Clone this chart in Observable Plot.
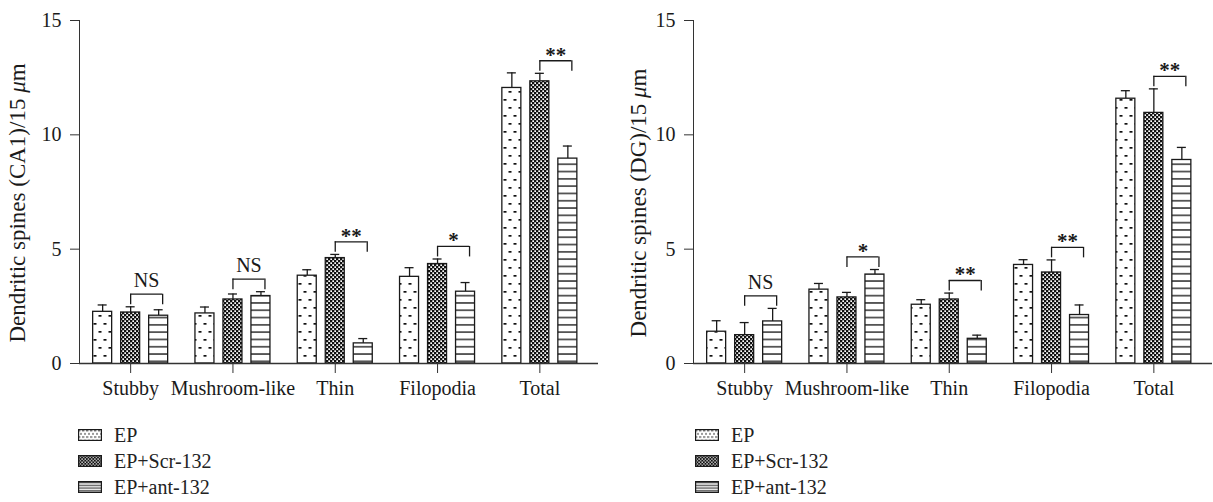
<!DOCTYPE html>
<html><head><meta charset="utf-8">
<script src="https://cdn.jsdelivr.net/npm/d3@7"></script>
<script src="https://cdn.jsdelivr.net/npm/@observablehq/plot@0.6"></script>
<style>
body{margin:0;background:#fff;font-family:"Liberation Serif",serif;color:#222}
#row{display:flex}
.legend{margin-top:22px}
.legend .item{display:flex;align-items:center;height:26px;font-size:20px}
.legend .item svg{margin-right:12px}
</style></head><body>
<svg width="0" height="0" style="position:absolute"><defs>
 <pattern id="pEP" patternUnits="userSpaceOnUse" width="10" height="16"><rect width="10" height="16" fill="#fff"/><rect x="1.5" y="3" width="3" height="1.7" fill="#111"/><rect x="6.5" y="11" width="3" height="1.7" fill="#111"/></pattern>
 <pattern id="pScr" patternUnits="userSpaceOnUse" width="4" height="4"><rect width="4" height="4" fill="#111"/><rect x="0.3" y="0.3" width="1.7" height="1.7" fill="#fff"/><rect x="2.3" y="2.3" width="1.7" height="1.7" fill="#fff"/></pattern>
 <pattern id="pAnt" patternUnits="userSpaceOnUse" width="10" height="7.3"><rect width="10" height="7.3" fill="#fff"/><rect y="3" width="10" height="1.3" fill="#111"/></pattern>
 <pattern id="lEP" patternUnits="userSpaceOnUse" width="10" height="16" patternTransform="scale(0.4)"><rect width="10" height="16" fill="#fff"/><rect x="0" y="3" width="6" height="2.5" fill="#333"/><rect x="5" y="11" width="6" height="2.5" fill="#333"/></pattern>
 <pattern id="lScr" patternUnits="userSpaceOnUse" width="4" height="4" patternTransform="scale(0.8)"><rect width="4" height="4" fill="#111"/><rect x="0.3" y="0.3" width="1.6" height="1.6" fill="#fff"/><rect x="2.3" y="2.3" width="1.6" height="1.6" fill="#fff"/></pattern>
 <pattern id="lAnt" patternUnits="userSpaceOnUse" width="10" height="7.3" patternTransform="scale(0.38)"><rect width="10" height="7.3" fill="#fff"/><rect y="3" width="10" height="2.6" fill="#111"/></pattern>
</defs></svg>
<div id="row"></div>
<script>
// ---- data ----
const categories = ["Stubby", "Mushroom-like", "Thin", "Filopodia", "Total"];
const groups = ["EP", "EP+Scr-132", "EP+ant-132"];
const yTicks = [0, 5, 10, 15];

const ca1EP     = [2.26, 2.19, 3.84, 3.79, 12.05];
const ca1EPErr  = [0.30, 0.28, 0.26, 0.40, 0.66];
const ca1Scr    = [2.23, 2.80, 4.61, 4.35, 12.34];
const ca1ScrErr = [0.25, 0.24, 0.16, 0.22, 0.35];
const ca1Ant    = [2.09, 2.95, 0.88, 3.14, 8.96];
const ca1AntErr = [0.26, 0.19, 0.21, 0.40, 0.55];
const ca1Sig    = ["NS", "NS", "**", "*", "**"];

const dgEP      = [1.39, 3.23, 2.57, 4.31, 11.58];
const dgEPErr   = [0.48, 0.27, 0.22, 0.23, 0.35];
const dgScr     = [1.24, 2.89, 2.80, 3.98, 10.96];
const dgScrErr  = [0.55, 0.22, 0.28, 0.55, 1.05];
const dgAnt     = [1.84, 3.89, 1.08, 2.12, 8.90];
const dgAntErr  = [0.57, 0.22, 0.16, 0.44, 0.55];
const dgSig     = ["NS", "*", "**", "**", "**"];

const ca1Label = "Dendritic spines (CA1)/15 ";
const dgLabel = "Dendritic spines (DG)/15 ";

// ---- styling ----
const fills = {"EP": "url(#pEP)", "EP+Scr-132": "url(#pScr)", "EP+ant-132": "url(#pAnt)"};
const legendFills = {"EP": "url(#lEP)", "EP+Scr-132": "url(#lScr)", "EP+ant-132": "url(#lAnt)"};
const groupDx = {"EP": -28, "EP+Scr-132": 0, "EP+ant-132": 28};
const ink = "#1a1a1a";

function chart({width, marginLeft, marginRight, ep, epE, scr, scrE, ant, antE, sig, label, labelX, legendLeft}) {
  const height = 400, marginTop = 20, marginBottom = 37;
  const frameW = width - marginLeft - marginRight;
  const step = 102.3;
  const po = (frameW / step - categories.length) / 2;
  const barW = 19, capW = 9;
  const rows = [];
  categories.forEach((c, i) => {
    rows.push({cat: c, group: groups[0], mean: ep[i], err: epE[i]});
    rows.push({cat: c, group: groups[1], mean: scr[i], err: scrE[i]});
    rows.push({cat: c, group: groups[2], mean: ant[i], err: antE[i]});
  });
  const sigRows = categories.map((c, i) => ({
    cat: c, label: sig[i],
    top: Math.max(scr[i] + scrE[i], ant[i] + antE[i]) + 0.55
  }));
  const marks = [];
  for (const g of groups) {
    const d = rows.filter(r => r.group === g);
    const dx = groupDx[g];
    marks.push(Plot.ruleX(d, {x: "cat", y1: "mean", y2: r => r.mean + r.err, dx, stroke: ink, strokeWidth: 1.3}));
    marks.push(Plot.tickY(d, {x: "cat", y: r => r.mean + r.err, dx, stroke: ink, strokeWidth: 1.3,
      insetLeft: (step - capW) / 2, insetRight: (step - capW) / 2}));
    marks.push(Plot.barY(d, {x: "cat", y: "mean", dx, fill: fills[g], stroke: ink, strokeWidth: 1.3,
      insetLeft: (step - barW) / 2, insetRight: (step - barW) / 2}));
  }
  const bw = 32, leg = 0.46;
  marks.push(Plot.tickY(sigRows, {x: "cat", y: "top", stroke: ink, strokeWidth: 1.3,
    insetLeft: step / 2, insetRight: step / 2 - bw}));
  marks.push(Plot.ruleX(sigRows, {x: "cat", y1: "top", y2: d => d.top - leg, stroke: ink, strokeWidth: 1.3}));
  marks.push(Plot.ruleX(sigRows, {x: "cat", y1: "top", y2: d => d.top - leg, dx: bw, stroke: ink, strokeWidth: 1.3}));
  marks.push(Plot.text(sigRows.filter(d => d.label === "NS"), {x: "cat", y: "top", text: "label", dx: bw / 2, dy: -7,
    lineAnchor: "bottom", fontSize: 20, fill: ink}));
  marks.push(Plot.text(sigRows.filter(d => d.label !== "NS"), {x: "cat", y: "top", text: "label", dx: bw / 2, dy: 1,
    lineAnchor: "bottom", fontSize: 21, fontWeight: "bold", fill: ink}));
  marks.push(Plot.ruleY([0], {stroke: "#333", strokeWidth: 1.4}));

  const svg = Plot.plot({
    width, height, marginLeft, marginRight, marginTop, marginBottom,
    style: {fontFamily: "Liberation Serif, serif", fontSize: "20px", color: "#333", background: "#fff"},
    x: {domain: categories, paddingInner: 0, paddingOuter: po, align: 0, round: false,
        tickSize: 10, tickPadding: 7, label: null},
    y: {domain: [0, 15], ticks: yTicks, tickSize: 9, tickPadding: 9, line: true, label: null},
    marks
  });
  d3.select(svg).selectAll('[aria-label="x-axis tick label"] text, [aria-label="y-axis tick label"] text').attr("fill", ink);
  const t = d3.select(svg).append("text")
    .attr("transform", `translate(${labelX},203) rotate(-90)`)
    .attr("text-anchor", "middle").attr("dominant-baseline", "central")
    .attr("font-size", 23).attr("fill", ink).attr("font-family", "Liberation Serif, serif");
  t.append("tspan").text(label);
  t.append("tspan").attr("font-style", "italic").text("μ");
  t.append("tspan").text("m");

  const wrap = document.createElement("div");
  wrap.style.width = width + "px";
  wrap.appendChild(svg);
  const lg = document.createElement("div");
  lg.className = "legend";
  lg.style.paddingLeft = legendLeft + "px";
  for (const g of groups) {
    const it = document.createElement("div");
    it.className = "item";
    it.innerHTML = `<svg width="24" height="12"><rect x="0.6" y="0.6" width="22.8" height="10.8" fill="${legendFills[g]}" stroke="${ink}" stroke-width="1.2"/></svg><span>${g}</span>`;
    lg.appendChild(it);
  }
  wrap.appendChild(lg);
  return wrap;
}

const row = document.getElementById("row");
row.appendChild(chart({width: 606, marginLeft: 79, marginRight: 8,
  ep: ca1EP, epE: ca1EPErr, scr: ca1Scr, scrE: ca1ScrErr, ant: ca1Ant, antE: ca1AntErr,
  sig: ca1Sig, label: ca1Label, labelX: 17, legendLeft: 78}));
row.appendChild(chart({width: 607, marginLeft: 87, marginRight: 1,
  ep: dgEP, epE: dgEPErr, scr: dgScr, scrE: dgScrErr, ant: dgAnt, antE: dgAntErr,
  sig: dgSig, label: dgLabel, labelX: 32, legendLeft: 89}));
</script>
</body></html>
